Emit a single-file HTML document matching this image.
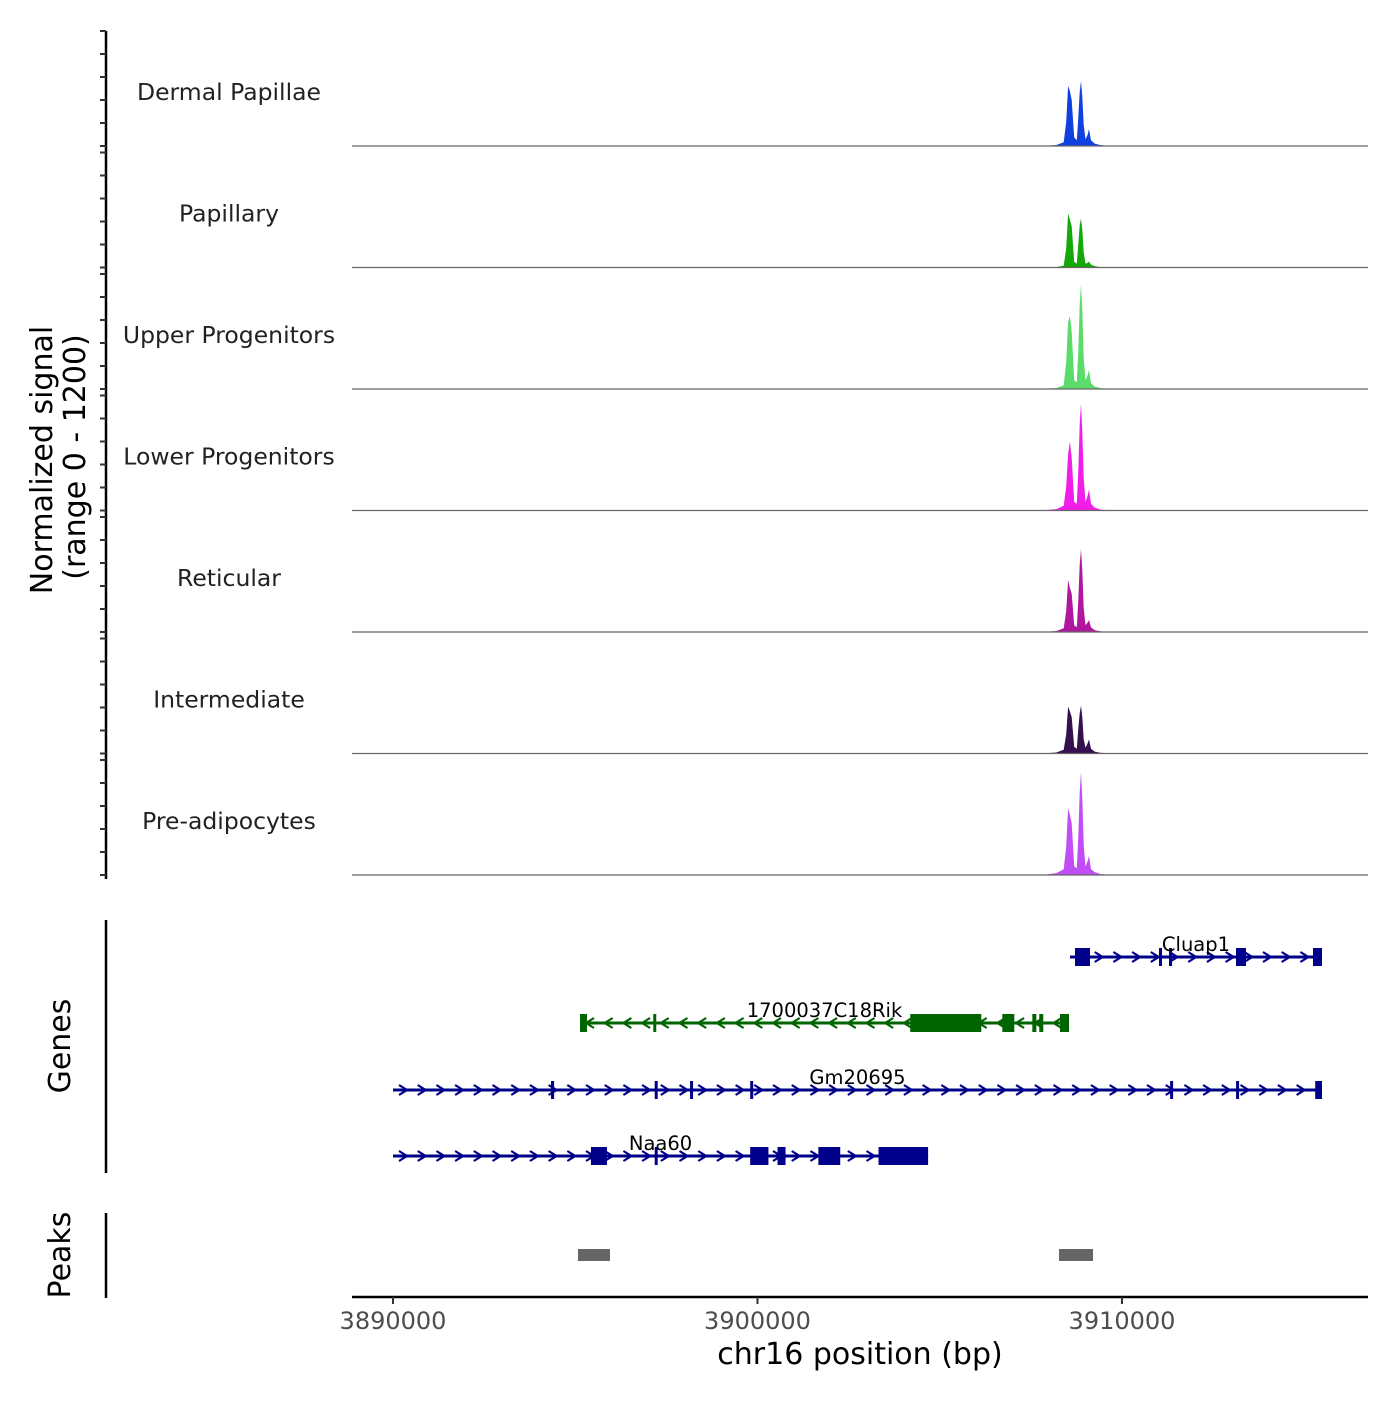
<!DOCTYPE html>
<html><head><meta charset="utf-8"><style>
body{margin:0;background:#fff}
svg text{font-family:"DejaVu Sans","Liberation Sans",sans-serif}
</style></head><body>
<svg id="c" width="1400" height="1400" xmlns="http://www.w3.org/2000/svg"></svg>
<script>
const trackNames=["Dermal Papillae","Papillary","Upper Progenitors","Lower Progenitors","Reticular","Intermediate","Pre-adipocytes"];
const trackColors=["#1140e0","#15a80a","#5bdc6a","#f01ee8","#b0179e","#35104f","#c04df5"];
const sigPos=[3888900,3907800,3908200,3908400,3908470,3908520,3908570,3908620,3908690,3908760,3908800,3908840,3908875,3908910,3908950,3909000,3909060,3909095,3909150,3909250,3909400,3909700,3916700];
const dpVals=[0,0,10,40,250,626,574,480,90,60,300,560,678,520,220,70,120,177,60,25,10,0,0];
const papVals=[0,0,5,20,200,563,500,430,60,40,250,440,511,400,160,40,50,63,30,15,5,0,0];
const upVals=[0,0,10,40,280,699,762,600,90,70,400,880,1096,820,330,90,150,198,60,25,10,0,0];
const lowVals=[0,0,15,50,250,584,720,550,90,70,420,900,1117,830,340,90,160,219,70,30,10,0,0];
const retVals=[0,0,10,40,220,543,459,400,70,50,330,700,866,640,250,70,100,125,50,20,8,0,0];
const intVals=[0,0,10,40,200,490,438,380,70,50,260,420,501,380,150,60,110,146,50,20,8,0,0];
const preVals=[0,0,20,60,300,699,626,540,90,70,400,860,1075,800,310,90,150,198,60,30,10,0,0];
const trackVals=[dpVals,papVals,upVals,lowVals,retVals,intVals,preVals];
const xTicks=[3890000,3900000,3910000];
const geneNames=["Cluap1","1700037C18Rik","Gm20695","Naa60"];
const geneStrand=[1,-1,1,1];
const geneStart=[3908573,3895130,3890000,3890000];
const geneEnd=[3915487,3908546,3915487,3904680];
const geneExons=[
 [[3908711,3909122],[3911015,3911098],[3911290,3911372],[3913128,3913402],[3915240,3915487]],
 [[3895130,3895322],[3897140,3897222],[3904190,3906140],[3906716,3907045],[3907540,3907650],[3907730,3907840],[3908300,3908546]],
 [[3894335,3894420],[3897180,3897260],[3898150,3898200],[3899800,3899880],[3911320,3911400],[3913130,3913180],[3915300,3915487]],
 [[3895430,3895870],[3897180,3897260],[3899800,3900300],[3900550,3900770],[3901670,3902270],[3903320,3904680]]];
const geneColors=["#00008b","#006400","#00008b","#00008b"];
const peakStart=[3895075,3908272];
const peakEnd=[3895953,3909205];

const svg=document.getElementById('c');const NS='http://www.w3.org/2000/svg';
function mk(t,a,p){const e=document.createElementNS(NS,t);for(const k in a)e.setAttribute(k,a[k]);(p||svg).appendChild(e);return e;}
const X0=352,X1=1368;
const xs=bp=>393+(bp-3890000)/27.435;
const baseY=i=>146+i*121.5;
const ys=(v,i)=>baseY(i)-v/1200*115;
let ax=mk('line',{x1:106,y1:31,x2:106,y2:879,stroke:'#000','stroke-width':2.5});

for(let i=0;i<7;i++){
 for(let k=0;k<=5;k++){const y=baseY(i)-k*23;const t=mk('line',{x1:100,x2:106,y1:y,y2:y,stroke:'#333','stroke-width':2});}
 const vals=trackVals[i];let d='M'+xs(sigPos[0])+','+baseY(i);
 sigPos.forEach((p,j)=>{d+=' L'+xs(p).toFixed(1)+','+ys(vals[j],i).toFixed(1);});
 d+=' L'+xs(sigPos[sigPos.length-1])+','+baseY(i)+'Z';
 const a=mk('path',{d:d,fill:trackColors[i]});
 const bl=mk('line',{x1:X0,x2:X1,y1:baseY(i),y2:baseY(i),stroke:'#666','stroke-width':1.2});
 const tl=mk('text',{x:229,y:baseY(i)-46,'text-anchor':'middle','font-size':23.5,fill:'#222'});tl.textContent=trackNames[i];
 
}
let yt=mk('text',{transform:'translate(52,460) rotate(-90)','text-anchor':'middle','font-size':30});yt.textContent='Normalized signal';

let yt2=mk('text',{transform:'translate(85,457) rotate(-90)','text-anchor':'middle','font-size':30});yt2.textContent='(range 0 - 1200)';

let ga=mk('line',{x1:106,y1:920,x2:106,y2:1173,stroke:'#000','stroke-width':2.5});
let gt=mk('text',{transform:'translate(70,1046) rotate(-90)','text-anchor':'middle','font-size':30});gt.textContent='Genes';

const geneY=[957,1023,1090,1156];
geneNames.forEach((n,i)=>{
 const g=mk('g',{});
 const y=geneY[i],c=geneColors[i],x1=xs(geneStart[i]),x2=xs(geneEnd[i]);
 mk('line',{x1:x1,x2:x2,y1:y,y2:y,stroke:c,'stroke-width':3},g);
 for(let x=x1+10;x<x2-5;x+=18.7){const s=geneStrand[i]*4;mk('path',{d:`M${x-s},${y-5} L${x+s},${y} L${x-s},${y+5}`,fill:'none',stroke:c,'stroke-width':2.2},g);}
 geneExons[i].forEach(e=>{mk('rect',{x:xs(e[0]),y:y-9,width:Math.max(3,xs(e[1])-xs(e[0])),height:18,fill:c},g);});
 const t=mk('text',{x:(x1+x2)/2,y:y-6,'text-anchor':'middle','font-size':19.5,fill:'#000'},g);t.textContent=n;
});
let pa=mk('line',{x1:106,y1:1213,x2:106,y2:1298,stroke:'#000','stroke-width':2.5});
let pt=mk('text',{transform:'translate(70,1255) rotate(-90)','text-anchor':'middle','font-size':30});pt.textContent='Peaks';

peakStart.forEach((s,i)=>{const r=mk('rect',{x:xs(s),y:1249,width:xs(peakEnd[i])-xs(s),height:12,fill:'#666'});});
let xa=mk('line',{x1:X0,x2:X1,y1:1297,y2:1297,stroke:'#000','stroke-width':2.5});
xTicks.forEach(v=>{const x=xs(v);mk('line',{x1:x,x2:x,y1:1297,y2:1304,stroke:'#333','stroke-width':2});
 const t=mk('text',{x:x,y:1329,'text-anchor':'middle','font-size':24,fill:'#4d4d4d'});t.textContent=v;});
let xt=mk('text',{x:860,y:1364,'text-anchor':'middle','font-size':30});xt.textContent='chr16 position (bp)';

</script>
</body></html>
